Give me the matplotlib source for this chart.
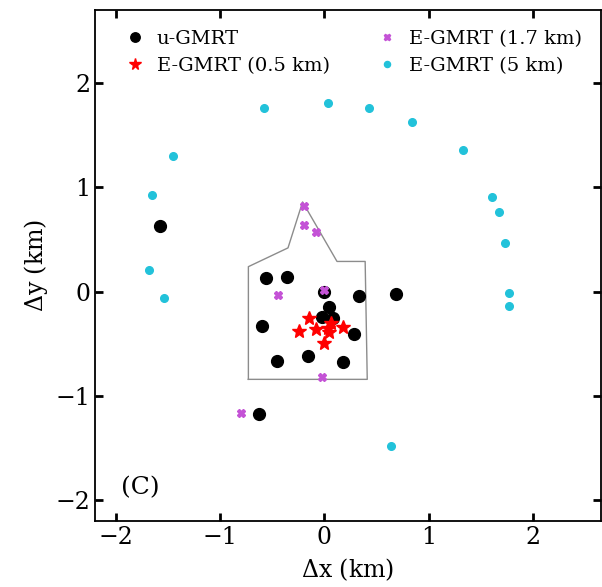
import matplotlib
matplotlib.use("Agg")
import matplotlib.pyplot as plt

plt.rcParams["font.family"] = "DejaVu Serif"
plt.rcParams["mathtext.fontset"] = "dejavuserif"

# Antenna positions relative to the array centre (km)
ugmrt_x = [-1.58, -0.63, 0.33, 0.69, -0.56, -0.36, -0.60, -0.46, -0.16, 0.18, 0.28, 0.00, 0.04, -0.02, 0.08]
ugmrt_y = [0.625, -1.17, -0.04, -0.02, 0.135, 0.14, -0.33, -0.66, -0.615, -0.67, -0.41, 0.00, -0.15, -0.24, -0.25]

egmrt05_x = [-0.15, -0.24, -0.08, 0.03, 0.06, 0.18, 0.04, 0.00]
egmrt05_y = [-0.25, -0.38, -0.36, -0.35, -0.30, -0.34, -0.39, -0.49]

egmrt17_x = [-0.20, -0.20, -0.08, -0.45, 0.00, -0.02, -0.80]
egmrt17_y = [0.82, 0.635, 0.57, -0.03, 0.02, -0.82, -1.16]

egmrt5_x = [-0.58, -1.45, -1.65, -1.68, -1.54, 0.03, 0.43, 0.84, 1.33, 1.61, 1.67, 1.73, 1.77, 1.77, 0.64]
egmrt5_y = [1.76, 1.30, 0.93, 0.21, -0.06, 1.81, 1.76, 1.625, 1.36, 0.91, 0.76, 0.47, -0.01, -0.14, -1.48]

# Outline of the central square region
core_x = [-0.73, -0.73, -0.35, -0.21, 0.12, 0.39, 0.41, -0.73]
core_y = [-0.84, 0.24, 0.42, 0.86, 0.29, 0.29, -0.84, -0.84]

fig = plt.figure(figsize=(6.02, 5.87), dpi=100)
ax = fig.add_axes([0.158, 0.112, 0.84, 0.871])

ax.plot(core_x, core_y, color="#8c8c8c", lw=1.0, zorder=1)
ax.plot(ugmrt_x, ugmrt_y, "o", color="black", ms=8.5, ls="none", label="u-GMRT", zorder=3)
ax.plot(egmrt05_x, egmrt05_y, "*", color="red", ms=10.5, ls="none", label="E-GMRT (0.5 km)", zorder=4)
ax.plot(egmrt17_x, egmrt17_y, "X", color="#c453d6", ms=6, ls="none", label="E-GMRT (1.7 km)", zorder=5)
ax.plot(egmrt5_x, egmrt5_y, "o", color="#22c2da", ms=5.5, ls="none", label="E-GMRT (5 km)", zorder=3)

ax.set_xlim(-2.2, 2.65)
ax.set_ylim(-2.2, 2.7)
ax.set_xticks([-2, -1, 0, 1, 2])
ax.set_yticks([-2, -1, 0, 1, 2])
ax.tick_params(direction="in", top=True, right=True, length=6, width=2, labelsize=17)
for s in ax.spines.values():
    s.set_linewidth(1.3)

ax.set_xlabel(r"$\Delta$x (km)", fontsize=17, labelpad=5)
ax.set_ylabel(r"$\Delta$y (km)", fontsize=17, labelpad=4)

ax.text(-1.95, -1.88, "(C)", fontsize=18, va="center", ha="left")

ax.legend(loc="upper left", bbox_to_anchor=(0.022, 0.995), ncol=2, frameon=False,
          fontsize=14, handletextpad=0.5, columnspacing=2.35, labelspacing=0.45,
          markerscale=0.8, handlelength=1.2)

fig.savefig("out.png", dpi=100)
